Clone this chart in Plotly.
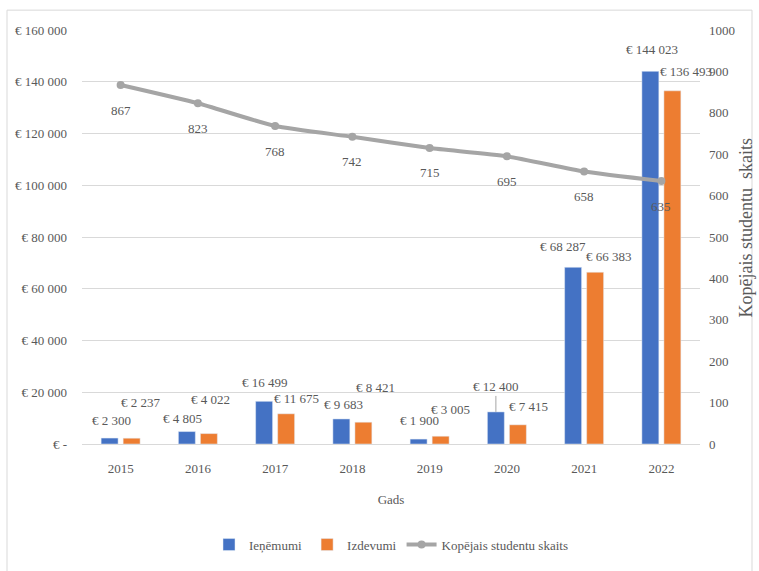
import plotly.graph_objects as go

# Yearly revenue, expenses and total student count
years = ["2015", "2016", "2017", "2018", "2019", "2020", "2021", "2022"]
ienemumi = [2300, 4805, 16499, 9683, 1900, 12400, 68287, 144023]
izdevumi = [2237, 4022, 11675, 8421, 3005, 7415, 66383, 136493]
studenti = [867, 823, 768, 742, 715, 695, 658, 635]

left_ticks = [0, 20000, 40000, 60000, 80000, 100000, 120000, 140000, 160000]
right_ticks = [0, 100, 200, 300, 400, 500, 600, 700, 800, 900, 1000]

FONT = "Liberation Serif"
TXT = "#595959"
BLUE = "#4472C4"
ORANGE = "#ED7D31"
GRAY = "#A5A5A5"
GRID = "#D9D9D9"


def eur(v):
    if v == 0:
        return "€ -"
    return "€ " + f"{v:,}".replace(",", " ")


# Manual label placement (pixel offsets from each category centre / bar top)
inc_shift = [(-9, 18), (-15, 13), (-10, 19), (-9, 14), (-10, 19), (-9, 25), (-21, 21), (-9, 22)]
exp_shift = [(20, 36), (13, 34), (21, 15), (23, 35), (21, 27), (22, 18), (25, 16), (25, 19)]

fig = go.Figure()

fig.add_trace(go.Bar(
    x=years, y=ienemumi, name="Ieņēmumi",
    marker=dict(color=BLUE), yaxis="y",
))
fig.add_trace(go.Bar(
    x=years, y=izdevumi, name="Izdevumi",
    marker=dict(color=ORANGE), yaxis="y",
))
fig.add_trace(go.Scatter(
    x=years, y=studenti, name="Kopējais studentu skaits",
    mode="lines+markers", yaxis="y2",
    line=dict(color=GRAY, width=4, shape="spline", smoothing=0.5),
    marker=dict(color=GRAY, size=8),
))

tfont = dict(family=FONT, size=13, color=TXT)
annotations = []
for i, yr in enumerate(years):
    dx, dy = inc_shift[i]
    if yr == "2020":
        annotations.append(dict(
            x=i, y=ienemumi[i], xref="x", yref="y", text=eur(ienemumi[i]),
            showarrow=True, arrowhead=0, arrowwidth=1, arrowcolor="#A6A6A6",
            ax=0, ay=-dy, xshift=-11, standoff=0, font=tfont,
        ))
    else:
        annotations.append(dict(
            x=i, y=ienemumi[i], xref="x", yref="y", text=eur(ienemumi[i]),
            showarrow=False, xshift=dx, yshift=dy, font=tfont,
        ))
    ex, ey = exp_shift[i]
    annotations.append(dict(
        x=i, y=izdevumi[i], xref="x", yref="y", text=eur(izdevumi[i]),
        showarrow=False, xshift=ex, yshift=ey, font=tfont,
    ))
    annotations.append(dict(
        x=i, y=studenti[i], xref="x", yref="y2", text=str(studenti[i]),
        showarrow=False, yshift=-25, font=tfont,
    ))

# Secondary axis title
annotations.append(dict(
    x=(746 - 82) / 618, y=(447 - 229) / 417, xref="paper", yref="paper",
    text="Kopējais studentu  skaits", textangle=-90, showarrow=False,
    xanchor="center", yanchor="middle",
    font=dict(family=FONT, size=18, color=TXT),
))

fig.update_layout(
    width=759, height=571,
    margin=dict(l=82, r=59, t=30, b=124),
    paper_bgcolor="white", plot_bgcolor="white",
    font=tfont,
    barmode="group", bargap=0.43, bargroupgap=0.23,
    showlegend=True,
    legend=dict(
        orientation="h", x=0.5, xanchor="center", y=-0.243, yanchor="middle",
        font=tfont, itemwidth=30, traceorder="normal",
    ),
    xaxis=dict(
        type="category", range=[-0.5, len(years) - 0.5], showgrid=False,
        showline=True, linecolor=GRID, linewidth=1, ticks="",
        tickfont=tfont, ticklabelstandoff=12, automargin=False,
        title=dict(text="Gads", standoff=20, font=tfont),
    ),
    yaxis=dict(
        range=[0, 160000], tickvals=left_ticks,
        ticktext=[eur(v) for v in left_ticks], automargin=False,
        showgrid=True, gridcolor=GRID, gridwidth=1, zeroline=False,
        showline=False, ticks="", ticklabelstandoff=14, tickfont=tfont,
    ),
    yaxis2=dict(
        overlaying="y", side="right", range=[0, 1000], tickvals=right_ticks,
        showgrid=False, zeroline=False, showline=False, ticks="",
        ticklabelstandoff=8, tickfont=tfont, automargin=False,
    ),
    annotations=annotations,
    shapes=[dict(
        type="rect", xref="paper", yref="paper",
        x0=-75 / 618, x1=(752 - 82) / 618, y0=-130 / 417, y1=(447 - 10) / 417,
        line=dict(color=GRID, width=1), fillcolor="rgba(0,0,0,0)", layer="below",
    )],
)

fig.write_html("out.html")
